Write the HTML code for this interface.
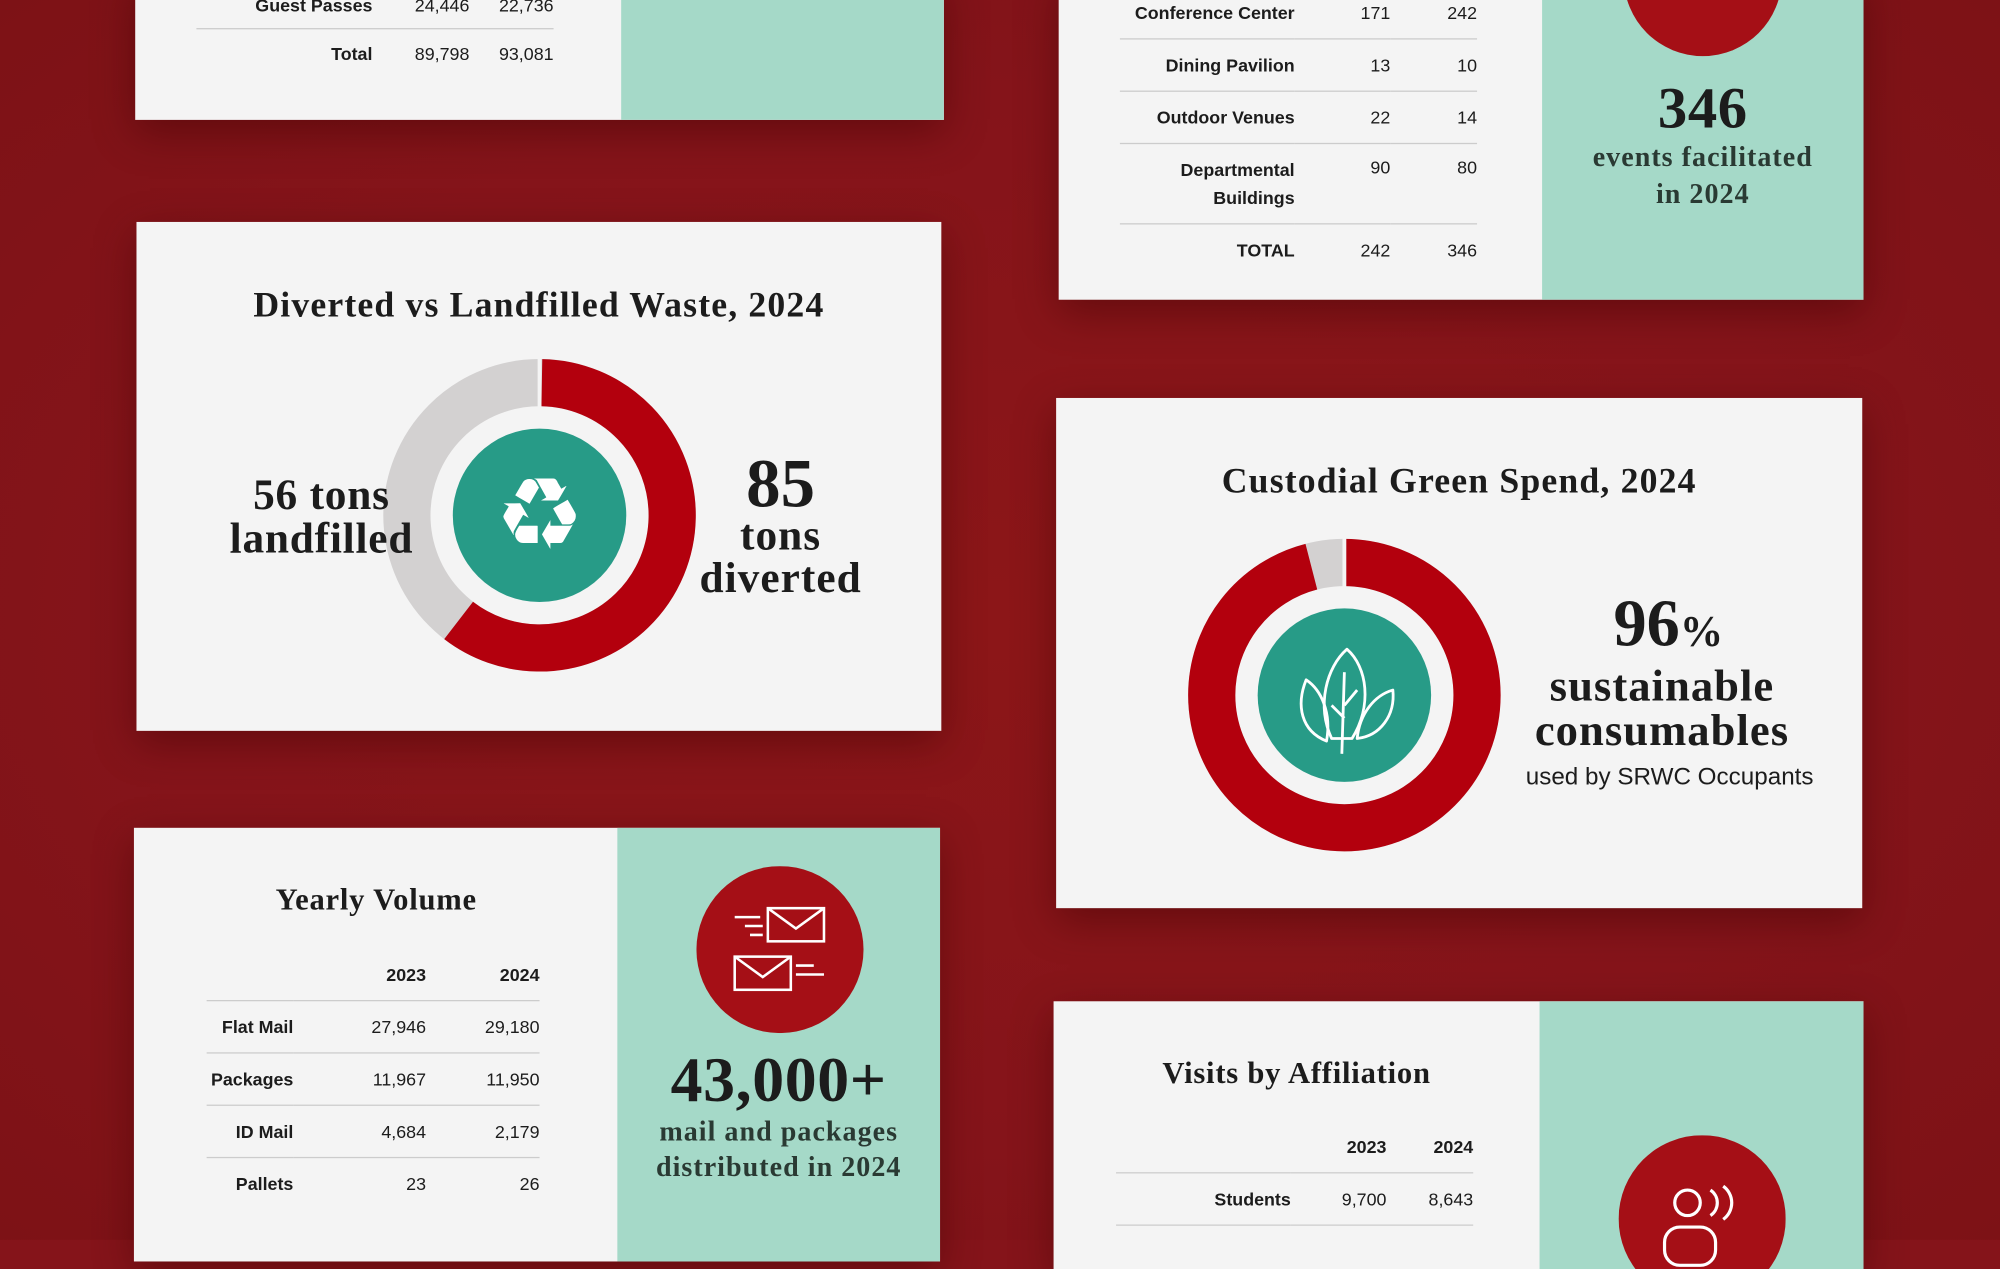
<!DOCTYPE html>
<html><head><meta charset="utf-8"><style>
html,body{margin:0;padding:0;}
body{width:2000px;height:1240px;overflow:hidden;background:#85141a;position:relative;}
#w{position:absolute;left:0;top:0;width:1568px;height:972px;transform:scale(1.27551);transform-origin:0 0;
background:radial-gradient(ellipse at 50% 50%,#8c1618 0%,#85141a 60%,#7d1216 100%);}
.card{position:absolute;background:#f4f4f4;box-shadow:0 10px 30px rgba(60,0,0,.45);overflow:hidden;}
.green{position:absolute;top:0;bottom:0;right:0;background:#a5d9c8;}
.ser{font-family:"Liberation Serif",serif;font-weight:bold;color:#1c1c1c;}
.sans{font-family:"Liberation Sans",sans-serif;color:#1c1c1c;}
table{border-collapse:collapse;font-family:"Liberation Sans",sans-serif;font-size:14px;color:#1c1c1c;position:absolute;}
td{padding:0;height:40px;text-align:right;}
td.l{font-weight:bold;}
tr.b td{border-top:1px solid #ccc;}
.t{position:absolute;text-align:center;}
</style></head><body><div id="w">

<!-- top left card -->
<div class="card" style="left:106px;top:-20px;width:634px;height:114px;">
  <div class="green" style="width:253px;"></div>
  <div class="sans" style="position:absolute;left:90px;top:16px;width:96px;text-align:right;font-weight:bold;font-size:14px;">Guest Passes</div>
  <div class="sans" style="position:absolute;left:200px;top:16px;width:62px;text-align:right;font-size:14px;">24,446</div>
  <div class="sans" style="position:absolute;left:270px;top:16px;width:58px;text-align:right;font-size:14px;">22,736</div>
  <div style="position:absolute;left:48px;top:42px;width:280px;border-top:1px solid #ccc;"></div>
  <div class="sans" style="position:absolute;left:90px;top:54px;width:96px;text-align:right;font-weight:bold;font-size:14px;">Total</div>
  <div class="sans" style="position:absolute;left:200px;top:54px;width:62px;text-align:right;font-size:14px;">89,798</div>
  <div class="sans" style="position:absolute;left:270px;top:54px;width:58px;text-align:right;font-size:14px;">93,081</div>
</div>

<!-- waste donut -->
<div class="card" style="left:107px;top:174px;width:631px;height:399px;">
  <div class="t ser" style="left:0;width:631px;top:50px;font-size:28px;letter-spacing:0.9px;">Diverted vs Landfilled Waste, 2024</div>
  <svg style="position:absolute;left:192px;top:106px" width="248" height="248" viewBox="-2 -2 248 248">
    <circle cx="122" cy="122" r="104" fill="none" stroke="#d3d1d1" stroke-width="37"/>
    <circle cx="122" cy="122" r="104" fill="none" stroke="#b3000d" stroke-width="37" stroke-dasharray="393 300" transform="rotate(-89 122 122)"/>
    <line x1="122" y1="-2" x2="122" y2="40" stroke="#f4f4f4" stroke-width="3"/>
    <circle cx="122" cy="122" r="68" fill="#279b87"/>
    <text x="122" y="148" text-anchor="middle" font-family="DejaVu Sans" font-size="78" fill="#fff">♻</text>
  </svg>
  <div class="t ser" style="left:50px;width:190px;top:198px;font-size:34px;line-height:34px;letter-spacing:0.6px;">56 tons<br>landfilled</div>
  <div class="t ser" style="left:420px;width:170px;top:178px;font-size:54px;line-height:54px;">85</div>
  <div class="t ser" style="left:420px;width:170px;top:230px;font-size:34px;line-height:33px;letter-spacing:0.8px;">tons<br>diverted</div>
</div>

<!-- yearly volume -->
<div class="card" style="left:105px;top:649px;width:632px;height:340px;">
  <div class="green" style="width:253px;"></div>
  <div class="t ser" style="left:0;width:380px;top:44px;font-size:24px;letter-spacing:0.6px;">Yearly Volume</div>
  <table style="left:57px;top:95px;width:261px;">
    <tr><td class="l" style="width:68px"></td><td class="l" style="width:104px">2023</td><td class="l">2024</td></tr>
    <tr class="b"><td class="l">Flat Mail</td><td>27,946</td><td>29,180</td></tr>
    <tr class="b"><td class="l">Packages</td><td>11,967</td><td>11,950</td></tr>
    <tr class="b"><td class="l">ID Mail</td><td>4,684</td><td>2,179</td></tr>
    <tr class="b"><td class="l">Pallets</td><td>23</td><td>26</td></tr>
  </table>
  <svg style="position:absolute;left:441px;top:30px" width="131" height="131" viewBox="0 0 131 131">
    <circle cx="65.5" cy="65.5" r="65.5" fill="#a50f16"/>
    <g fill="none" stroke="#fff" stroke-width="2">
      <rect x="56" y="33" width="44" height="26"/><path d="M56 33 L78 49 L100 33"/>
      <line x1="30" y1="40" x2="50" y2="40"/><line x1="38" y1="47" x2="52" y2="47"/><line x1="42" y1="54" x2="52" y2="54"/>
      <rect x="30" y="71" width="44" height="26"/><path d="M30 71 L52 87 L74 71"/>
      <line x1="78" y1="78" x2="92" y2="78"/><line x1="78" y1="85" x2="100" y2="85"/>
    </g>
  </svg>
  <div class="t ser" style="left:369px;width:273px;top:168px;font-size:50px;letter-spacing:0.5px;">43,000+</div>
  <div class="t ser" style="left:369px;width:273px;top:224px;font-size:22px;line-height:28px;color:#2a3a33;letter-spacing:0.8px;">mail and packages<br>distributed in 2024</div>
</div>

<!-- events card -->
<div class="card" style="left:830px;top:-20px;width:631px;height:255px;">
  <div class="green" style="width:252px;"></div>
  <table style="left:48px;top:10px;width:280px;">
    <tr><td class="l" style="width:137px">Conference Center</td><td style="width:75px">171</td><td>242</td></tr>
    <tr class="b"><td class="l">Dining Pavilion</td><td>13</td><td>10</td></tr>
    <tr class="b"><td class="l">Outdoor Venues</td><td>22</td><td>14</td></tr>
    <tr class="b"><td class="l" style="line-height:22px;height:62px">Departmental<br>Buildings</td><td style="vertical-align:top;padding-top:10px">90</td><td style="vertical-align:top;padding-top:10px">80</td></tr>
    <tr class="b"><td class="l">TOTAL</td><td>242</td><td>346</td></tr>
  </table>
  <div style="position:absolute;left:443px;top:-60px;width:124px;height:124px;border-radius:50%;background:#a50f16;"></div>
  <div class="t ser" style="left:369px;width:272px;top:78px;font-size:46px;letter-spacing:0.5px;">346</div>
  <div class="t ser" style="left:369px;width:272px;top:128px;font-size:22px;line-height:29px;color:#2a3a33;letter-spacing:0.8px;">events facilitated<br>in 2024</div>
</div>

<!-- green spend -->
<div class="card" style="left:828px;top:312px;width:632px;height:400px;">
  <div class="t ser" style="left:0;width:632px;top:50px;font-size:28px;letter-spacing:0.9px;">Custodial Green Spend, 2024</div>
  <svg style="position:absolute;left:102px;top:109px" width="248" height="248" viewBox="-2 -2 248 248">
    <circle cx="122" cy="122" r="104" fill="none" stroke="#d3d1d1" stroke-width="37"/>
    <circle cx="122" cy="122" r="104" fill="none" stroke="#b3000d" stroke-width="37" stroke-dasharray="627 100" transform="rotate(-90 122 122)"/>
    <line x1="122" y1="-2" x2="122" y2="40" stroke="#f4f4f4" stroke-width="3"/>
    <circle cx="122" cy="122" r="68" fill="#279b87"/>
    <g fill="none" stroke="#fff" stroke-width="2.2" stroke-linejoin="round">
      <path d="M108 158 C88 150 84 130 92 110 C104 118 112 136 108 158Z"/>
      <path d="M112 156 C100 130 108 100 124 86 C140 100 144 130 128 156Z"/>
      <path d="M132 156 C134 136 146 122 160 118 C162 138 150 154 132 156Z"/>
      <path d="M120 168 L122 104 M122 140 L112 130 M122 130 L132 118"/>
    </g>
  </svg>
  <div class="t ser" style="left:380px;width:200px;top:148px;font-size:52px;">96<span style="font-size:34px">%</span></div>
  <div class="t ser" style="left:340px;width:270px;top:208px;font-size:35px;line-height:35px;letter-spacing:0.8px;">sustainable<br>consumables</div>
  <div class="t sans" style="left:350px;width:262px;top:287px;font-size:19px;">used by SRWC Occupants</div>
</div>

<!-- visits -->
<div class="card" style="left:826px;top:785px;width:635px;height:210px;">
  <div class="green" style="width:254px;"></div>
  <div class="t ser" style="left:0;width:381px;top:44px;font-size:24px;letter-spacing:0.6px;">Visits by Affiliation</div>
  <table style="left:49px;top:94px;width:280px;">
    <tr><td class="l" style="width:137px"></td><td class="l" style="width:75px">2023</td><td class="l">2024</td></tr>
    <tr class="b"><td class="l">Students</td><td>9,700</td><td>8,643</td></tr>
    <tr class="b"><td></td><td></td><td></td></tr>
  </table>
  <svg style="position:absolute;left:443px;top:105px" width="131" height="131" viewBox="0 0 131 131">
    <circle cx="65.5" cy="65.5" r="65.5" fill="#a50f16"/>
    <g fill="none" stroke="#fff" stroke-width="2.5">
      <circle cx="54" cy="53" r="10"/><path d="M72 43 A12 12 0 0 1 72 63 M82 40 A16 16 0 0 1 82 66"/>
      <rect x="36" y="72" width="40" height="30" rx="12"/>
    </g>
  </svg>
</div>

</div></body></html>
